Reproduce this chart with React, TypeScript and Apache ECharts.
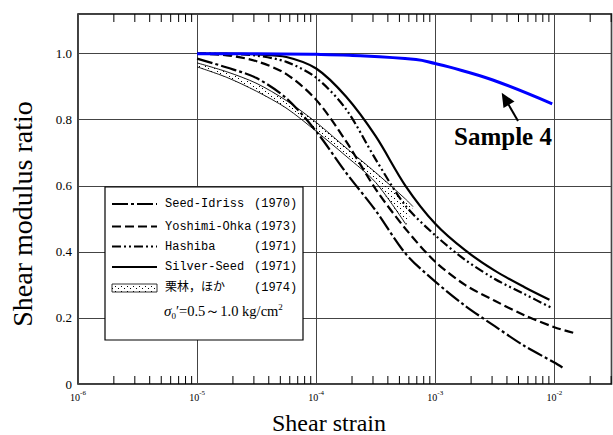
import React, { useEffect, useRef } from "react";
import * as echarts from "echarts";

// ---- data: [shear strain, shear modulus ratio] ----
const sample4: [number, number][] = [
  [1.0e-5, 1.0], [3.2e-5, 1.0], [1.0e-4, 0.998], [1.9e-4, 0.995], [6.9e-4, 0.982],
  [1.0e-3, 0.97], [1.3e-3, 0.96], [3.0e-3, 0.921], [9.6e-3, 0.848],
];
const silverSeed: [number, number][] = [
  [1.0e-5, 1.0], [1.78e-5, 1.0], [3.16e-5, 0.998], [5.62e-5, 0.99], [1.0e-4, 0.955],
  [1.78e-4, 0.87], [3.16e-4, 0.75], [5.62e-4, 0.6], [1.0e-3, 0.485], [1.78e-3, 0.405],
  [3.16e-3, 0.343], [5.62e-3, 0.293], [9.1e-3, 0.255],
];
const hashiba: [number, number][] = [
  [1.0e-5, 1.0], [1.78e-5, 0.999], [3.16e-5, 0.994], [5.62e-5, 0.975], [1.0e-4, 0.927],
  [1.78e-4, 0.832], [3.16e-4, 0.68], [5.62e-4, 0.54], [1.0e-3, 0.45], [1.78e-3, 0.376],
  [3.16e-3, 0.318], [5.62e-3, 0.272], [9.3e-3, 0.232],
];
const yoshimiOhka: [number, number][] = [
  [1.0e-5, 1.0], [1.78e-5, 0.995], [3.16e-5, 0.977], [5.62e-5, 0.938], [1.0e-4, 0.86],
  [1.78e-4, 0.735], [3.16e-4, 0.59], [5.62e-4, 0.47], [1.0e-3, 0.37], [1.78e-3, 0.3],
  [3.16e-3, 0.252], [5.62e-3, 0.208], [1.0e-2, 0.172], [1.44e-2, 0.155],
];
const seedIdriss: [number, number][] = [
  [1.0e-5, 0.985], [1.78e-5, 0.958], [3.16e-5, 0.926], [5.62e-5, 0.865], [1.0e-4, 0.765],
  [1.78e-4, 0.64], [3.16e-4, 0.525], [5.62e-4, 0.395], [1.0e-3, 0.31], [1.78e-3, 0.237],
  [3.16e-3, 0.175], [5.62e-3, 0.115], [1.0e-2, 0.065], [1.17e-2, 0.05],
];
const kuribayashiUpper: [number, number][] = [
  [1.0e-5, 0.972], [1.78e-5, 0.945], [3.16e-5, 0.91], [5.62e-5, 0.858], [1.0e-4, 0.792],
  [1.78e-4, 0.715], [3.16e-4, 0.64], [5.62e-4, 0.56], [6.5e-4, 0.537],
];
const kuribayashiLower: [number, number][] = [
  [1.0e-5, 0.96], [1.78e-5, 0.928], [3.16e-5, 0.886], [5.62e-5, 0.835], [1.0e-4, 0.765],
  [1.78e-4, 0.69], [3.16e-4, 0.61], [5.7e-4, 0.482],
];

const xDecades = [-6, -5, -4, -3, -2];
const yTicks = [0, 0.2, 0.4, 0.6, 0.8, 1.0];
const legendNames = ["Seed-Idriss", "Yoshimi-Ohka", "Hashiba", "Silver-Seed", "栗林，ほか"];
const legendYears = ["(1970)", "(1973)", "(1971)", "(1971)", "(1974)"];

const X_MIN = -6;
const X_MAX = -1.52;
const Y_MIN = 0;
const Y_MAX = 1.12;

const toLog = (d: [number, number][]) => d.map(([s, r]) => [Math.log10(s), r]);

function makeDots(): HTMLCanvasElement {
  const c = document.createElement("canvas");
  c.width = 6;
  c.height = 5;
  const ctx = c.getContext("2d")!;
  ctx.fillStyle = "#000";
  ctx.fillRect(1, 1, 1, 1);
  ctx.fillRect(4, 3, 1, 1);
  return c;
}

export default function App() {
  const ref = useRef<HTMLDivElement>(null);
  useEffect(() => {
    if (!ref.current) return;
    const chart = echarts.init(ref.current, undefined, { renderer: "svg" });
    const dots = { image: makeDots(), repeat: "repeat" } as any;

    const minor: number[][] = [];
    xDecades.forEach((n) => {
      for (let k = 2; k <= 9; k++) {
        const v = Math.log10(k) + n;
        if (v < X_MAX) minor.push([v, 0]);
      }
    });

    const black = "#000";
    const lineSeries = (name: string, data: [number, number][], dash: any, width = 2.2) => ({
      type: "line",
      name,
      data: toLog(data),
      smooth: 0.3,
      showSymbol: false,
      symbol: "none",
      lineStyle: { color: black, width, type: dash },
      z: 3,
    });

    const legendX0 = 112;
    const legendX1 = 157;
    const rowY = [204, 226.5, 246.5, 267, 288];
    const dashes: any[] = [[16, 3, 3, 3], [9, 4], [9, 3, 2, 3, 2, 3], "solid"];
    const serif = "'Liberation Serif', serif";
    const legendGraphics: any[] = [
      {
        type: "rect",
        shape: { x: 105, y: 187, width: 198, height: 153 },
        style: { fill: "#fff", stroke: "#000", lineWidth: 1.2 },
        z: 10,
      },
    ];
    rowY.forEach((y, i) => {
      if (i < 4) {
        legendGraphics.push({
          type: "line",
          shape: { x1: legendX0, y1: y, x2: legendX1, y2: y },
          style: { stroke: "#000", lineWidth: 2.2, lineDash: dashes[i] === "solid" ? null : dashes[i] },
          z: 11,
        });
      } else {
        legendGraphics.push({
          type: "rect",
          shape: { x: legendX0, y: y - 4, width: legendX1 - legendX0, height: 8 },
          style: { fill: dots, stroke: "#000", lineWidth: 0.8 },
          z: 11,
        });
      }
      legendGraphics.push({
        type: "text",
        x: 165,
        y,
        style: {
          text: legendNames[i],
          fontFamily: "'Liberation Mono', 'Noto Sans CJK JP', monospace",
          fontSize: 12,
          fill: "#000",
          verticalAlign: "middle",
        },
        z: 11,
      });
      legendGraphics.push({
        type: "text",
        x: 254,
        y,
        style: {
          text: legendYears[i],
          fontFamily: "'Liberation Mono', monospace",
          fontSize: 12,
          fill: "#000",
          verticalAlign: "middle",
        },
        z: 11,
      });
    });
    legendGraphics.push({
      type: "text",
      x: 164,
      y: 311,
      style: {
        text: "{g|σ}{sub|0}{n|′=0.5～1.0 kg/cm}{sup|2}",
        verticalAlign: "middle",
        rich: {
          g: { fontFamily: serif, fontStyle: "italic", fontSize: 15, fill: "#000", verticalAlign: "middle", lineHeight: 18 },
          sub: { fontFamily: serif, fontSize: 9, fill: "#000", verticalAlign: "bottom", lineHeight: 18 },
          n: { fontFamily: serif, fontSize: 14.5, fill: "#000", verticalAlign: "middle", lineHeight: 18 },
          sup: { fontFamily: serif, fontSize: 9, fill: "#000", verticalAlign: "top", lineHeight: 18 },
        },
      },
      z: 11,
    });

    const option: any = {
      animation: false,
      backgroundColor: "#fff",
      grid: {
        left: 78,
        right: 1.5,
        top: 14,
        bottom: 51,
        containLabel: false,
        outerBoundsMode: "none",
        show: true,
        borderColor: "#000",
        borderWidth: 1.5,
        backgroundColor: "transparent",
      },
      xAxis: {
        type: "value",
        min: X_MIN,
        max: X_MAX,
        interval: 1,
        axisLine: { show: false },
        axisTick: { show: false },
        splitLine: { show: true, lineStyle: { color: "#444", width: 1 } },
        axisLabel: {
          margin: 5,
          formatter: (v: number) => {
            const n = Math.round(v);
            if (Math.abs(v - n) > 1e-6) return "";
            return `{b|10}{s|${n}}`;
          },
          rich: {
            b: { fontFamily: serif, fontSize: 10, color: "#000", verticalAlign: "bottom", lineHeight: 13 },
            s: { fontFamily: serif, fontSize: 7, color: "#000", verticalAlign: "top", lineHeight: 13 },
          },
        },
      },
      yAxis: {
        type: "value",
        min: Y_MIN,
        max: Y_MAX,
        interval: 0.2,
        axisLine: { show: false },
        axisTick: { show: false },
        splitLine: { show: true, lineStyle: { color: "#444", width: 1 } },
        axisLabel: {
          margin: 6,
          fontFamily: serif,
          fontSize: 13,
          color: "#000",
          formatter: (v: number) => {
            const t = yTicks.find((y) => Math.abs(y - v) < 1e-6);
            if (t === undefined) return "";
            return t === 0 ? "0" : t.toFixed(1);
          },
        },
      },
      series: [
        {
          type: "custom",
          name: "minor ticks",
          data: minor,
          clip: false,
          silent: true,
          renderItem: (_p: any, api: any) => {
            const v = api.value(0);
            const b = api.coord([v, Y_MIN]);
            const t = api.coord([v, Y_MAX]);
            return {
              type: "group",
              children: [
                { type: "line", shape: { x1: b[0], y1: b[1], x2: b[0], y2: b[1] - 8 }, style: { stroke: "#000", lineWidth: 1 } },
                { type: "line", shape: { x1: t[0], y1: t[1], x2: t[0], y2: t[1] + 8 }, style: { stroke: "#000", lineWidth: 1 } },
              ],
            };
          },
          z: 2,
        },
        {
          type: "custom",
          name: "栗林，ほか band",
          data: [[-5, 1]],
          silent: true,
          renderItem: (_p: any, api: any) => {
            const up = kuribayashiUpper.map(([s, r]) => api.coord([Math.log10(s), r]));
            const lo = kuribayashiLower.map(([s, r]) => api.coord([Math.log10(s), r])).reverse();
            return {
              type: "polygon",
              shape: { points: up.concat(lo) },
              style: { fill: dots, stroke: "none" },
            };
          },
          z: 2,
        },
        lineSeries("栗林 upper", kuribayashiUpper, "solid", 0.9),
        lineSeries("栗林 lower", kuribayashiLower, "solid", 0.9),
        lineSeries("Seed-Idriss", seedIdriss, [16, 3, 3, 3]),
        lineSeries("Yoshimi-Ohka", yoshimiOhka, [9, 4]),
        lineSeries("Hashiba", hashiba, [9, 3, 2, 3, 2, 3]),
        lineSeries("Silver-Seed", silverSeed, "solid"),
        {
          type: "line",
          name: "Sample 4",
          data: toLog(sample4),
          smooth: 0.4,
          showSymbol: false,
          symbol: "none",
          lineStyle: { color: "#0000ff", width: 3 },
          z: 5,
        },
      ],
      graphic: [
        ...legendGraphics,
        {
          type: "text",
          x: 329,
          y: 423,
          style: {
            text: "Shear strain",
            fontFamily: serif,
            fontSize: 24,
            fill: "#000",
            align: "center",
            verticalAlign: "middle",
          },
        },
        {
          type: "text",
          x: 22,
          y: 214,
          rotation: Math.PI / 2,
          style: {
            text: "Shear modulus ratio",
            fontFamily: serif,
            fontSize: 28,
            fill: "#000",
            align: "center",
            verticalAlign: "middle",
          },
        },
        {
          type: "text",
          x: 503,
          y: 136,
          style: {
            text: "Sample 4",
            fontFamily: serif,
            fontWeight: "bold",
            fontSize: 25,
            fill: "#000",
            align: "center",
            verticalAlign: "middle",
          },
          z: 12,
        },
        {
          type: "line",
          shape: { x1: 518, y1: 121, x2: 508.5, y2: 104.5 },
          style: { stroke: "#000", lineWidth: 2 },
          z: 12,
        },
        {
          type: "polygon",
          shape: { points: [[501.7, 92.7], [503.5, 108], [514.5, 101.5]] },
          style: { fill: "#000" },
          z: 12,
        },
      ],
    };
    chart.setOption(option);
    return () => chart.dispose();
  }, []);
  return (
    <div
      ref={ref}
      style={{ position: "absolute", left: 0, top: 0, width: 613, height: 435, background: "#fff" }}
    />
  );
}
